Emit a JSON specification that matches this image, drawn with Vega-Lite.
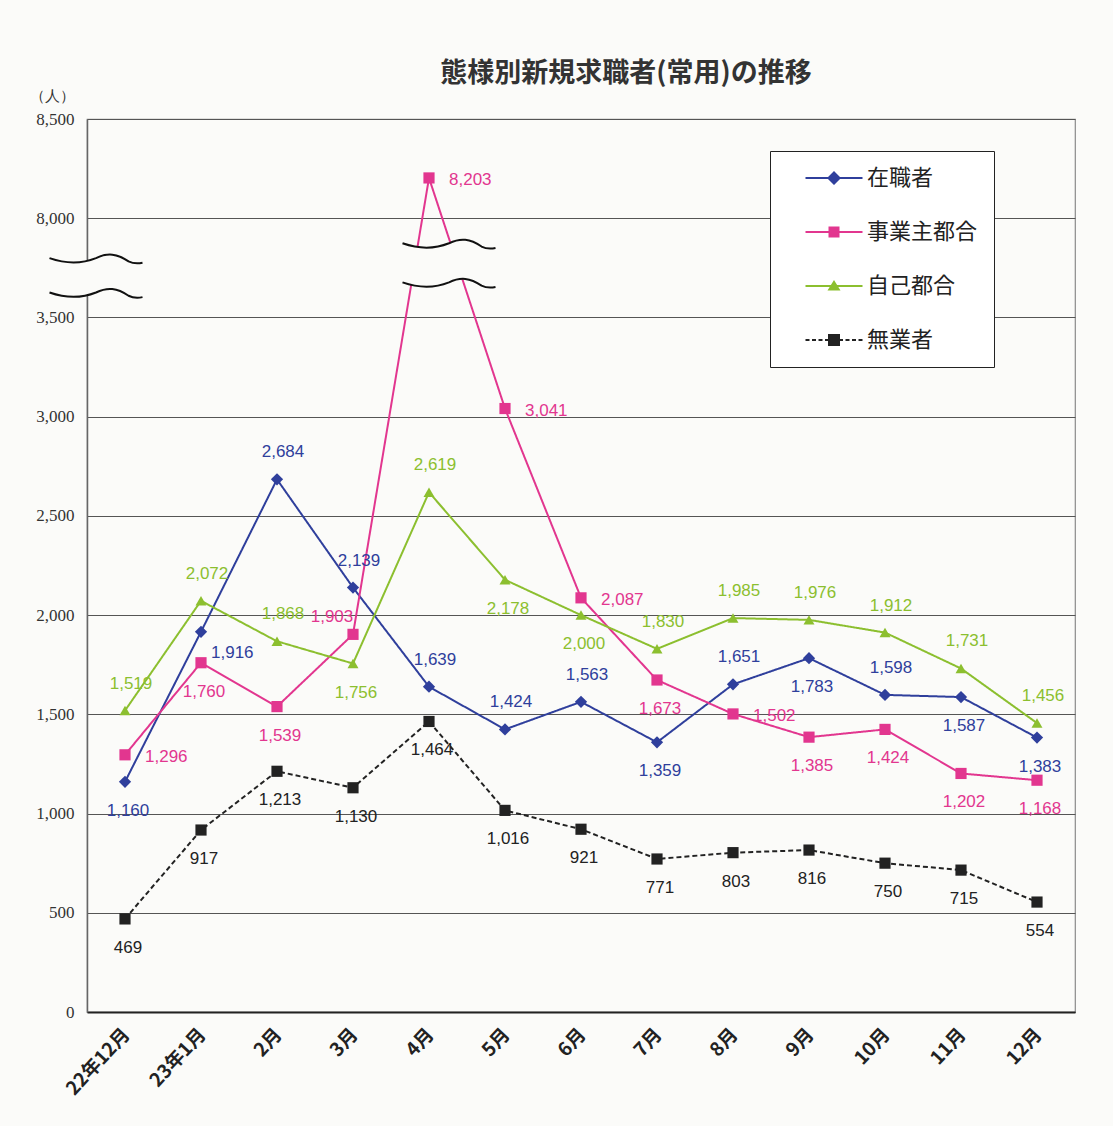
{
  "$schema": "https://vega.github.io/schema/vega-lite/v6.json",
  "autosize": {"type": "none"},
  "padding": {"left": 87, "top": 119, "right": 38, "bottom": 114},
  "width": 988,
  "height": 893,
  "background": "#fbfbf9",
  "title": {"text": "態様別新規求職者(常用)の推移", "anchor": "middle", "dx": 45, "offset": 0, "fontSize": 27, "font": "Noto Sans CJK JP", "fontWeight": "bold", "color": "#333333"},
  "config": {
    "view": {"stroke": "#8a8a8a", "strokeWidth": 1.2},
    "font": "Noto Sans CJK JP"
  },
  "data": {"values": [
    {"month": "22年12月", "series": "在職者", "value": 1160},
    {"month": "23年1月", "series": "在職者", "value": 1916},
    {"month": "2月", "series": "在職者", "value": 2684},
    {"month": "3月", "series": "在職者", "value": 2139},
    {"month": "4月", "series": "在職者", "value": 1639},
    {"month": "5月", "series": "在職者", "value": 1424},
    {"month": "6月", "series": "在職者", "value": 1563},
    {"month": "7月", "series": "在職者", "value": 1359},
    {"month": "8月", "series": "在職者", "value": 1651},
    {"month": "9月", "series": "在職者", "value": 1783},
    {"month": "10月", "series": "在職者", "value": 1598},
    {"month": "11月", "series": "在職者", "value": 1587},
    {"month": "12月", "series": "在職者", "value": 1383},
    {"month": "22年12月", "series": "事業主都合", "value": 1296},
    {"month": "23年1月", "series": "事業主都合", "value": 1760},
    {"month": "2月", "series": "事業主都合", "value": 1539},
    {"month": "3月", "series": "事業主都合", "value": 1903},
    {"month": "4月", "series": "事業主都合", "value": 8203},
    {"month": "5月", "series": "事業主都合", "value": 3041},
    {"month": "6月", "series": "事業主都合", "value": 2087},
    {"month": "7月", "series": "事業主都合", "value": 1673},
    {"month": "8月", "series": "事業主都合", "value": 1502},
    {"month": "9月", "series": "事業主都合", "value": 1385},
    {"month": "10月", "series": "事業主都合", "value": 1424},
    {"month": "11月", "series": "事業主都合", "value": 1202},
    {"month": "12月", "series": "事業主都合", "value": 1168},
    {"month": "22年12月", "series": "自己都合", "value": 1519},
    {"month": "23年1月", "series": "自己都合", "value": 2072},
    {"month": "2月", "series": "自己都合", "value": 1868},
    {"month": "3月", "series": "自己都合", "value": 1756},
    {"month": "4月", "series": "自己都合", "value": 2619},
    {"month": "5月", "series": "自己都合", "value": 2178},
    {"month": "6月", "series": "自己都合", "value": 2000},
    {"month": "7月", "series": "自己都合", "value": 1830},
    {"month": "8月", "series": "自己都合", "value": 1985},
    {"month": "9月", "series": "自己都合", "value": 1976},
    {"month": "10月", "series": "自己都合", "value": 1912},
    {"month": "11月", "series": "自己都合", "value": 1731},
    {"month": "12月", "series": "自己都合", "value": 1456},
    {"month": "22年12月", "series": "無業者", "value": 469},
    {"month": "23年1月", "series": "無業者", "value": 917},
    {"month": "2月", "series": "無業者", "value": 1213},
    {"month": "3月", "series": "無業者", "value": 1130},
    {"month": "4月", "series": "無業者", "value": 1464},
    {"month": "5月", "series": "無業者", "value": 1016},
    {"month": "6月", "series": "無業者", "value": 921},
    {"month": "7月", "series": "無業者", "value": 771},
    {"month": "8月", "series": "無業者", "value": 803},
    {"month": "9月", "series": "無業者", "value": 816},
    {"month": "10月", "series": "無業者", "value": 750},
    {"month": "11月", "series": "無業者", "value": 715},
    {"month": "12月", "series": "無業者", "value": 554}
  ]},
  "encoding": {
    "x": {"field": "month", "type": "nominal",
      "scale": {"type": "point", "padding": 0.5, "domain": ["22年12月","23年1月","2月","3月","4月","5月","6月","7月","8月","9月","10月","11月","12月"]},
      "axis": {"title": null, "ticks": false, "domain": true, "domainColor": "#222222", "domainWidth": 2, "labelAngle": -47, "labelAlign": "right", "labelBaseline": "middle", "labelPadding": 19, "labelOffset": 1, "labelFont": "Noto Sans CJK JP", "labelFontWeight": "bold", "labelFontSize": 19, "labelColor": "#222222", "grid": false}},
    "y": {"field": "value", "type": "quantitative",
      "scale": {"domain": [0, 3500, 8000, 8500], "range": [893, 198.44, 99.22, 0], "nice": false, "zero": false},
      "axis": {"values": [0,500,1000,1500,2000,2500,3000,3500,8000,8500], "format": ",.0f", "title": "（人）", "titleAngle": 0, "titleAlign": "center", "titleBaseline": "middle", "titleX": -35, "titleY": -24, "titleFont": "Liberation Serif", "titleFontSize": 15, "titleFontWeight": "normal", "titleColor": "#333333", "ticks": false, "labelPadding": 13, "labelFont": "Liberation Serif", "labelFontSize": 17, "labelColor": "#333333", "domain": true, "domainColor": "#666666", "domainWidth": 1.5, "grid": true, "gridColor": "#555555", "gridWidth": 1, "gridOpacity": 1}}
  },
  "layer": [
    {
      "mark": {"type": "line", "strokeWidth": 2},
      "encoding": {
        "color": {"field": "series", "type": "nominal", "scale": {"domain": ["在職者","事業主都合","自己都合","無業者"], "range": ["#2f3f9c","#e2368f","#8cbf2f","#222222"]}},
        "strokeDash": {"condition": {"test": "datum.series === '無業者'", "value": [5, 3]}, "value": [1, 0]}
      }
    },
    {
      "data": {"values": [{"month": "22年12月", "value": 5370}]},
      "mark": {"type": "point", "shape": "M-1,-0.39C-0.6,-0.25 -0.3,-0.27 0,-0.39C0.25,-0.51 0.45,-0.49 0.7,-0.32C0.8,-0.27 0.9,-0.27 1,-0.29L1,0.45C0.9,0.47 0.8,0.47 0.7,0.42C0.45,0.25 0.25,0.23 0,0.35C-0.3,0.47 -0.6,0.49 -1,0.35Z", "size": 8649, "filled": true, "fill": "#fbfbf9", "strokeWidth": 0, "opacity": 1, "xOffset": -29},
      "encoding": {}
    },
    {
      "data": {"values": [{"month": "22年12月", "value": 5370}]},
      "mark": {"type": "point", "shape": "M-1,-0.39C-0.6,-0.25 -0.3,-0.27 0,-0.39C0.25,-0.51 0.45,-0.49 0.7,-0.32C0.8,-0.27 0.9,-0.27 1,-0.29M-1,0.35C-0.6,0.49 -0.3,0.47 0,0.35C0.25,0.23 0.45,0.25 0.7,0.42C0.8,0.47 0.9,0.47 1,0.45", "size": 8649, "filled": false, "stroke": "#111111", "strokeWidth": 2, "opacity": 1, "xOffset": -29},
      "encoding": {}
    },
    {
      "data": {"values": [{"month": "4月", "value": 5935}]},
      "mark": {"type": "point", "shape": "M-1,-0.44C-0.6,-0.30 -0.3,-0.32 0,-0.44C0.25,-0.56 0.45,-0.54 0.7,-0.37C0.8,-0.32 0.9,-0.32 1,-0.34L1,0.50C0.9,0.52 0.8,0.52 0.7,0.47C0.45,0.30 0.25,0.28 0,0.40C-0.3,0.52 -0.6,0.54 -1,0.40Z", "size": 8649, "filled": true, "fill": "#fbfbf9", "strokeWidth": 0, "opacity": 1, "xOffset": 20},
      "encoding": {}
    },
    {
      "data": {"values": [{"month": "4月", "value": 5935}]},
      "mark": {"type": "point", "shape": "M-1,-0.44C-0.6,-0.30 -0.3,-0.32 0,-0.44C0.25,-0.56 0.45,-0.54 0.7,-0.37C0.8,-0.32 0.9,-0.32 1,-0.34M-1,0.40C-0.6,0.54 -0.3,0.52 0,0.40C0.25,0.28 0.45,0.30 0.7,0.47C0.8,0.52 0.9,0.52 1,0.50", "size": 8649, "filled": false, "stroke": "#111111", "strokeWidth": 2, "opacity": 1, "xOffset": 20},
      "encoding": {}
    },
    {
      "transform": [{"filter": "datum.series === '在職者'"}],
      "mark": {"type": "point", "shape": "diamond", "filled": true, "size": 150, "opacity": 1},
      "encoding": {"color": {"field": "series", "type": "nominal"}}
    },
    {
      "transform": [{"filter": "datum.series === '事業主都合' || datum.series === '無業者'"}],
      "mark": {"type": "point", "shape": "square", "filled": true, "size": 125, "opacity": 1},
      "encoding": {"color": {"field": "series", "type": "nominal"}}
    },
    {
      "transform": [{"filter": "datum.series === '自己都合'"}],
      "mark": {"type": "point", "shape": "triangle-up", "filled": true, "size": 120, "opacity": 1},
      "encoding": {"color": {"field": "series", "type": "nominal"}}
    },
    {
      "mark": {"type": "point", "filled": true, "size": 10, "opacity": 0},
      "encoding": {
        "color": {"field": "series", "type": "nominal",
          "legend": {
            "orient": "none", "legendX": 683, "legendY": 32, "title": null,
            "padding": 16, "symbolOffset": 37, "symbolSize": 400, "symbolOpacity": 1, "labelOffset": 22, "rowPadding": 32,
            "labelFont": "Noto Sans CJK JP", "labelFontSize": 22, "labelColor": "#222222",
            "strokeColor": "#222222", "fillColor": "#ffffff", "symbolStrokeWidth": 0
          }},
        "shape": {"field": "series", "type": "nominal",
          "scale": {"domain": ["在職者","事業主都合","自己都合","無業者"], "range": [
            "M-2.85,-0.1H2.85V0.1H-2.85ZM0,-0.7L0.7,0L0,0.7L-0.7,0Z",
            "M-2.85,-0.1H2.85V0.1H-2.85ZM-0.55,-0.55H0.55V0.55H-0.55Z",
            "M-2.85,-0.1H2.85V0.1H-2.85ZM0,-0.6L0.65,0.45H-0.65Z",
            "M-2.85,-0.1H-2.45V0.1H-2.85ZM-2.2,-0.1H-1.8V0.1H-2.2ZM-1.55,-0.1H-1.15V0.1H-1.55ZM-0.9,-0.1H-0.6V0.1H-0.9ZM0.6,-0.1H0.9V0.1H0.6ZM1.15,-0.1H1.55V0.1H1.15ZM1.8,-0.1H2.2V0.1H1.8ZM2.45,-0.1H2.85V0.1H2.45ZM-0.6,-0.6H0.6V0.6H-0.6Z"
          ]},
          "legend": {
            "orient": "none", "legendX": 683, "legendY": 32, "title": null,
            "padding": 16, "symbolOffset": 37, "symbolSize": 400, "symbolOpacity": 1, "labelOffset": 22, "rowPadding": 32,
            "labelFont": "Noto Sans CJK JP", "labelFontSize": 22, "labelColor": "#222222",
            "strokeColor": "#222222", "fillColor": "#ffffff", "symbolStrokeWidth": 0
          }}
      }
    },
    {
      "transform": [{"filter": "(datum.series==='在職者' && indexof(['2月','3月','4月','5月','6月','8月','10月'], datum.month)>=0) || (datum.series==='自己都合' && indexof(['22年12月','23年1月','2月','4月','7月','8月','9月','10月','11月','12月'], datum.month)>=0)"}],
      "mark": {"type": "text", "font": "Liberation Sans", "fontSize": 17, "dx": 6, "dy": -27, "align": "center", "baseline": "middle"},
      "encoding": {"text": {"field": "value", "type": "quantitative", "format": ","}, "color": {"field": "series", "type": "nominal"}}
    },
    {
      "transform": [{"filter": "datum.series==='無業者' || (datum.series==='在職者' && indexof(['22年12月','7月','9月','11月','12月'], datum.month)>=0) || (datum.series==='自己都合' && indexof(['3月','5月','6月'], datum.month)>=0) || (datum.series==='事業主都合' && indexof(['23年1月','2月','7月','9月','10月','11月','12月'], datum.month)>=0)"}],
      "mark": {"type": "text", "font": "Liberation Sans", "fontSize": 17, "dx": 3, "dy": 29, "align": "center", "baseline": "middle"},
      "encoding": {"text": {"field": "value", "type": "quantitative", "format": ","}, "color": {"field": "series", "type": "nominal"}}
    },
    {
      "transform": [{"filter": "datum.series==='事業主都合' && indexof(['22年12月','4月','5月','6月','8月'], datum.month)>=0"}],
      "mark": {"type": "text", "font": "Liberation Sans", "fontSize": 17, "dx": 20, "dy": 2, "align": "left", "baseline": "middle"},
      "encoding": {"text": {"field": "value", "type": "quantitative", "format": ","}, "color": {"field": "series", "type": "nominal"}}
    },
    {
      "transform": [{"filter": "datum.series==='在職者' && datum.month==='23年1月'"}],
      "mark": {"type": "text", "font": "Liberation Sans", "fontSize": 17, "dx": 10, "dy": 21, "align": "left", "baseline": "middle"},
      "encoding": {"text": {"field": "value", "type": "quantitative", "format": ","}, "color": {"field": "series", "type": "nominal"}}
    },
    {
      "transform": [{"filter": "datum.series==='事業主都合' && datum.month==='3月'"}],
      "mark": {"type": "text", "font": "Liberation Sans", "fontSize": 17, "dx": -21, "dy": -17, "align": "center", "baseline": "middle"},
      "encoding": {"text": {"field": "value", "type": "quantitative", "format": ","}, "color": {"field": "series", "type": "nominal"}}
    }
  ]
}
